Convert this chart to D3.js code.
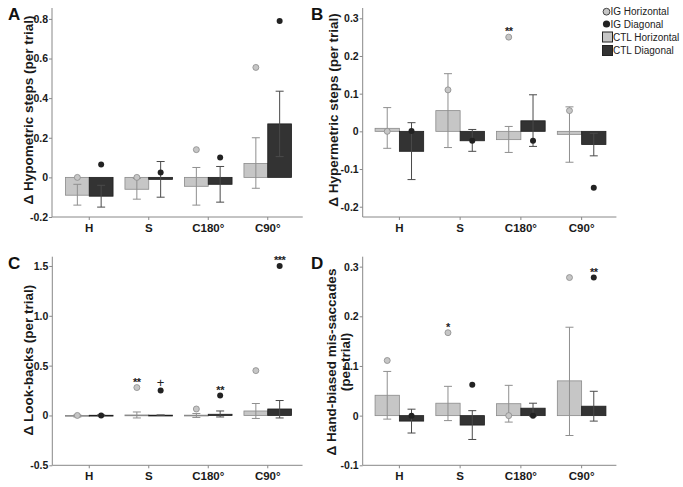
<!DOCTYPE html>
<html><head><meta charset="utf-8">
<script src="https://cdn.jsdelivr.net/npm/d3@7/dist/d3.min.js"></script>
<style>body{margin:0;background:#fff}svg{display:block;font-family:"Liberation Sans",Arial,sans-serif}</style>
</head><body><svg id="c" width="683" height="487"></svg>
<script>
const categories = ["H","S","C180°","C90°"];
// Panel A: hypometric steps
const A_ctlH = [-0.09,-0.06,-0.045,0.07];
const A_ctlH_lo = [-0.14,-0.11,-0.14,-0.055];
const A_ctlH_hi = [-0.035,-0.005,0.05,0.2];
const A_ctlD = [-0.095,-0.01,-0.035,0.27];
const A_ctlD_lo = [-0.15,-0.1,-0.125,0.105];
const A_ctlD_hi = [-0.04,0.08,0.055,0.435];
const A_igH = [0,0,0.14,0.555];
const A_igD = [0.065,0.025,0.1,0.79];
const A_sigH = ["","","",""];
const A_sigD = ["","","",""];
const A_ticks = [-0.2,0,0.2,0.4,0.6,0.8];
const A_tickLabels = ["-0.2","0","0.2","0.4","0.6","0.8"];
// Panel B: hypermetric steps
const B_ctlH = [0.008,0.055,-0.022,-0.008];
const B_ctlH_lo = [-0.045,-0.043,-0.056,-0.082];
const B_ctlH_hi = [0.063,0.153,0.013,0.065];
const B_ctlD = [-0.053,-0.025,0.028,-0.035];
const B_ctlD_lo = [-0.128,-0.053,-0.04,-0.065];
const B_ctlD_hi = [0.023,0.005,0.097,-0.005];
const B_igH = [0,0.11,0.25,0.055];
const B_igD = [0.001,-0.025,-0.025,-0.15];
const B_sigH = ["","","**",""];
const B_sigD = ["","","",""];
const B_ticks = [-0.2,-0.1,0,0.1,0.2,0.3];
const B_tickLabels = ["-0.2","-0.1","0","0.1","0.2","0.3"];
// Panel C: look-backs
const C_ctlH = [-0.005,0.005,0.003,0.045];
const C_ctlH_lo = [-0.015,-0.025,-0.02,-0.03];
const C_ctlH_hi = [0.005,0.035,0.02,0.12];
const C_ctlD = [0.002,0.003,0.012,0.065];
const C_ctlD_lo = [-0.003,0.003,-0.015,-0.025];
const C_ctlD_hi = [0.006,0.003,0.045,0.15];
const C_igH = [0,0.28,0.065,0.45];
const C_igD = [0,0.25,0.2,1.5];
const C_sigH = ["","**","",""];
const C_sigD = ["","+","**","***"];
const C_ticks = [-0.5,0,0.5,1.0,1.5];
const C_tickLabels = ["-0.5","0","0.5","1.0","1.5"];
// Panel D: hand-biased mis-saccades
const D_ctlH = [0.041,0.025,0.024,0.07];
const D_ctlH_lo = [-0.007,-0.01,-0.013,-0.04];
const D_ctlH_hi = [0.089,0.059,0.061,0.178];
const D_ctlD = [-0.011,-0.019,0.015,0.019];
const D_ctlD_lo = [-0.035,-0.048,-0.001,-0.011];
const D_ctlD_hi = [0.013,0.01,0.025,0.049];
const D_igH = [0.111,0.167,0,0.278];
const D_igD = [0,0.062,0,0.278];
const D_sigH = ["","*","",""];
const D_sigD = ["","","","**"];
const D_ticks = [-0.1,0,0.1,0.2,0.3];
const D_tickLabels = ["-0.1","0","0.1","0.2","0.3"];

const legendLabels = ["IG Horizontal","IG Diagonal","CTL Horizontal","CTL Diagonal"];

const LIGHT = "#c6c6c6", LIGHT_S = "#8a8a8a", DARK = "#333333", DARK_S = "#1e1e1e";
const svg = d3.select("#c");

const panels = [
  {letter:"A", lx:8, ly:20, ax:52, xr:[59.5,297.5], dom:[-0.2,0.855], yr:[217,8], ticks:A_ticks, tl:A_tickLabels,
   label:["Δ Hypometric steps (per trial)"], labX:[28], labY:110,
   ctlH:A_ctlH, hlo:A_ctlH_lo, hhi:A_ctlH_hi, ctlD:A_ctlD, dlo:A_ctlD_lo, dhi:A_ctlD_hi, igH:A_igH, igD:A_igD, sH:A_sigH, sD:A_sigD},
  {letter:"B", lx:311, ly:20, ax:362.7, xr:[369,612], dom:[-0.2273,0.3273], yr:[217,8], ticks:B_ticks, tl:B_tickLabels,
   label:["Δ Hypermetric steps (per trial)"], labX:[333], labY:110,
   ctlH:B_ctlH, hlo:B_ctlH_lo, hhi:B_ctlH_hi, ctlD:B_ctlD, dlo:B_ctlD_lo, dhi:B_ctlD_hi, igH:B_igH, igD:B_igD, sH:B_sigH, sD:B_sigD},
  {letter:"C", lx:8, ly:269, ax:52.3, xr:[59.5,297.5], dom:[-0.5,1.593], yr:[465.3,256.7], ticks:C_ticks, tl:C_tickLabels,
   label:["Δ Look-backs (per trial)"], labX:[28], labY:360,
   ctlH:C_ctlH, hlo:C_ctlH_lo, hhi:C_ctlH_hi, ctlD:C_ctlD, dlo:C_ctlD_lo, dhi:C_ctlD_hi, igH:C_igH, igD:C_igD, sH:C_sigH, sD:C_sigD},
  {letter:"D", lx:311, ly:269, ax:362.7, xr:[369,612], dom:[-0.1,0.32], yr:[465.3,256.7], ticks:D_ticks, tl:D_tickLabels,
   label:["Δ Hand-biased mis-saccades","(per trial)"], labX:[331,345], labY:362,
   ctlH:D_ctlH, hlo:D_ctlH_lo, hhi:D_ctlH_hi, ctlD:D_ctlD, dlo:D_ctlD_lo, dhi:D_ctlD_hi, igH:D_igH, igD:D_igD, sH:D_sigH, sD:D_sigD}
];

panels.forEach(p => {
  const g = svg.append("g");
  const x = d3.scaleBand().domain(categories).range(p.xr).padding(0);
  const y = d3.scaleLinear().domain(p.dom).range(p.yr);
  const bw = x.bandwidth()*0.4;
  const cx = c => x(c) + x.bandwidth()/2;

  // y label
  p.label.forEach((t,i) => {
    g.append("text").attr("transform",`translate(${p.labX[i]},${p.labY}) rotate(-90)`)
      .attr("text-anchor","middle").attr("dominant-baseline","central")
      .attr("font-size",13.5).attr("font-weight","bold").attr("fill","#1a1a1a").text(t);
  });
  // letter
  g.append("text").attr("x",p.lx).attr("y",p.ly).attr("font-size",17).attr("font-weight","bold").attr("fill","#111").text(p.letter);

  // bars
  const y0 = y(0);
  const bars = (vals, off, fill, stroke) => g.append("g").selectAll("rect").data(categories).join("rect")
    .attr("x", c => cx(c) + off).attr("width", bw)
    .attr("y", (c,i) => Math.min(y(vals[i]), y0)).attr("height", (c,i) => Math.max(Math.abs(y(vals[i]) - y0), 0.8))
    .attr("fill", fill).attr("stroke", stroke).attr("stroke-width", 0.8);
  bars(p.ctlH, -bw, LIGHT, LIGHT_S);
  bars(p.ctlD, 0, DARK, DARK_S);

  // error bars
  const err = (lo, hi, off, col) => {
    const eg = g.append("g").attr("stroke", col).attr("stroke-width", 1);
    categories.forEach((c,i) => {
      const xc = cx(c) + off;
      eg.append("line").attr("x1",xc).attr("x2",xc).attr("y1",y(lo[i])).attr("y2",y(hi[i]));
      [lo[i],hi[i]].forEach(v => eg.append("line").attr("x1",xc-4).attr("x2",xc+4).attr("y1",y(v)).attr("y2",y(v)));
    });
  };
  err(p.hlo, p.hhi, -bw/2, "#8f8f8f");
  err(p.dlo, p.dhi, bw/2, "#4a4a4a");

  // IG points
  g.append("g").selectAll("circle").data(categories).join("circle")
    .attr("cx", c => cx(c) - bw/2).attr("cy", (c,i) => y(p.igH[i])).attr("r", 3)
    .attr("fill", LIGHT).attr("stroke", "#8a8a8a").attr("stroke-width", 0.8);
  g.append("g").selectAll("circle").data(categories).join("circle")
    .attr("cx", c => cx(c) + bw/2).attr("cy", (c,i) => y(p.igD[i])).attr("r", 3)
    .attr("fill", "#222");

  // significance marks
  const sig = (arr, vals, off) => categories.forEach((c,i) => {
    if (!arr[i]) return;
    const plus = arr[i] === "+";
    g.append("text").attr("x", cx(c)+off).attr("y", y(vals[i]) + (plus ? -3.5 : -2))
      .attr("text-anchor","middle").attr("font-size", plus ? 13 : 11).attr("font-weight", plus ? "normal":"bold")
      .attr("letter-spacing", plus ? 0 : -0.5)
      .attr("fill","#222").text(arr[i]);
  });
  sig(p.sH, p.igH, -bw/2);
  sig(p.sD, p.igD, bw/2);

  // axes
  const ya = g.append("g").attr("transform",`translate(${p.ax},0)`)
    .call(d3.axisLeft(y).tickValues(p.ticks).tickFormat((d,i) => p.tl[i]).tickSize(3).tickPadding(1));
  const xa = g.append("g").attr("transform",`translate(0,${p.yr[0]})`)
    .call(d3.axisBottom(x).tickSize(3).tickPadding(4));
  [ya, xa].forEach(a => {
    a.select(".domain").remove();
    a.selectAll("line").attr("stroke","#888");
    a.selectAll("text").attr("font-size",10.5).attr("font-weight","bold").attr("fill","#1a1a1a").attr("font-family","Liberation Sans, Arial, sans-serif");
  });
  xa.selectAll("text").attr("font-size",11.5);
  g.append("line").attr("x1",p.ax).attr("x2",p.ax).attr("y1",p.yr[0]).attr("y2",p.yr[1]).attr("stroke","#888");
  g.append("line").attr("x1",p.ax).attr("x2",p.xr[1]+ (p.xr[0]-p.ax)*0.7).attr("y1",p.yr[0]).attr("y2",p.yr[0]).attr("stroke","#888");
});

// legend
const lg = svg.append("g");
const rows = [11.7, 24, 37, 50.5];
legendLabels.forEach((t,i) => {
  if (i === 0) lg.append("circle").attr("cx",606.5).attr("cy",rows[i]).attr("r",3.4).attr("fill",LIGHT).attr("stroke","#444").attr("stroke-width",1);
  else if (i === 1) lg.append("circle").attr("cx",606.5).attr("cy",rows[i]).attr("r",3.6).attr("fill","#222");
  else lg.append("rect").attr("x",602.5).attr("y",rows[i]-5).attr("width",10).attr("height",10)
    .attr("fill", i===2 ? LIGHT : DARK).attr("stroke","#222").attr("stroke-width",1);
  lg.append("text").attr("x", i < 2 ? 610.5 : 613).attr("y", rows[i]).attr("dominant-baseline","central")
    .attr("font-size",10).attr("fill","#222").text(t);
});
</script></body></html>
